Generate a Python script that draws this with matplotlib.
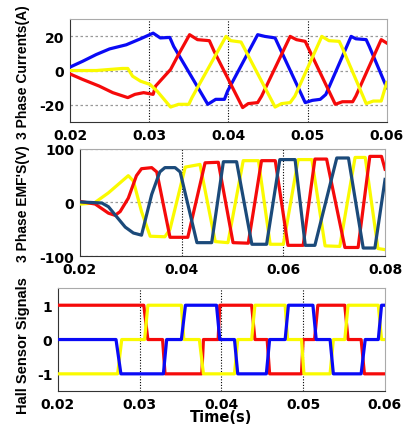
import matplotlib
matplotlib.use("Agg")
import matplotlib.pyplot as plt

# ---- phase currents (A) ----
ia_t = [0.0200, 0.0216, 0.0233, 0.0250, 0.0271, 0.0289, 0.0305, 0.0314, 0.0326, 0.0331,
        0.0374, 0.0384, 0.0395, 0.0399, 0.0437, 0.0446, 0.0459, 0.0463, 0.0497, 0.0506,
        0.0516, 0.0523, 0.0555, 0.0561, 0.0574, 0.0578, 0.0600]
ia_v = [2.0, 5.4, 9.3, 12.6, 15.0, 18.5, 21.8, 19.0, 19.3, 14.0,
        -19.7, -16.8, -16.8, -12.0, 20.9, 19.9, 19.0, 15.0, -18.7, -17.4,
        -16.8, -14.0, 19.9, 18.5, 18.0, 14.0, -10.0]

ib_t = [0.0200, 0.0216, 0.0237, 0.0254, 0.0273, 0.0282, 0.0293, 0.0305, 0.0308, 0.0327,
        0.0337, 0.0351, 0.0361, 0.0376, 0.0382, 0.0418, 0.0425, 0.0437, 0.0442, 0.0478,
        0.0486, 0.0497, 0.0501, 0.0535, 0.0544, 0.0557, 0.0561, 0.0591, 0.0593, 0.0600]
ib_v = [-2.0, -5.2, -9.1, -12.9, -15.8, -13.9, -12.9, -13.9, -9.1, 0.6,
        9.3, 20.9, 18.0, 17.4, 11.2, -21.6, -19.3, -18.7, -14.9, 19.9,
        18.0, 17.0, 13.1, -19.7, -18.2, -18.2, -14.9, 16.0, 18.0, 16.0]

ic_t = [0.0200, 0.0233, 0.0266, 0.0273, 0.0279, 0.0289, 0.0301, 0.0310, 0.0327, 0.0337,
        0.0350, 0.0354, 0.0397, 0.0403, 0.0416, 0.0420, 0.0459, 0.0467, 0.0478, 0.0484,
        0.0518, 0.0527, 0.0540, 0.0544, 0.0574, 0.0583, 0.0593, 0.0600]
ic_v = [0.0, 0.0, 1.2, 1.2, -3.3, -6.2, -8.1, -12.0, -21.3, -19.7,
        -19.7, -15.8, 19.9, 17.4, 16.6, 13.1, -21.3, -19.3, -18.7, -14.9,
        19.9, 17.4, 17.0, 13.1, -19.3, -17.8, -17.8, -7.0]

# ---- back EMFs (V) ----
ea_t = [0.0200, 0.0228, 0.0256, 0.0295, 0.0305, 0.0321, 0.0338, 0.0367, 0.0377, 0.0407,
        0.0436, 0.0466, 0.0491, 0.0521, 0.0551, 0.0574, 0.0600, 0.0629, 0.0656, 0.0682,
        0.0711, 0.0741, 0.0761, 0.0786, 0.0800]
ea_v = [-3, -1, 18, 50, 40, -17, -63, -64, -50, 66,
        71, -73, -75, 78, 78, -78, -78, 80, 80, -81,
        -82, 84, 84, -86, -88]

eb_t = [0.0200, 0.0230, 0.0256, 0.0269, 0.0279, 0.0295, 0.0311, 0.0321, 0.0341, 0.0351,
        0.0377, 0.0412, 0.0446, 0.0472, 0.0501, 0.0531, 0.0557, 0.0584, 0.0609, 0.0639,
        0.0662, 0.0685, 0.0721, 0.0747, 0.0770, 0.0793, 0.0800]
eb_v = [2, -3, -20, -24, -17, 8, 50, 63, 65, 57,
        -65, -65, 74, 75, -75, -76, 78, 78, -80, -80,
        81, 81, -84, -84, 86, 86, 62]

ec_t = [0.0200, 0.0243, 0.0256, 0.0275, 0.0289, 0.0305, 0.0321, 0.0341, 0.0357, 0.0367,
        0.0387, 0.0397, 0.0430, 0.0459, 0.0482, 0.0508, 0.0538, 0.0567, 0.0593, 0.0623,
        0.0643, 0.0662, 0.0705, 0.0728, 0.0757, 0.0780, 0.0800]
ec_v = [1, -1, -8, -30, -46, -57, -61, 15, 57, 65,
        65, 57, -75, -75, 76, 76, -78, -78, 80, 80,
        -80, -80, 83, 83, -85, -85, 43]

# ---- hall sensor signals ----
ha_t = [0.0200, 0.0305, 0.0310, 0.0328, 0.0331, 0.0376, 0.0378, 0.0396, 0.0398, 0.0437,
        0.0441, 0.0456, 0.0459, 0.0498, 0.0500, 0.0514, 0.0518, 0.0551, 0.0555, 0.0571,
        0.0575, 0.0600]
ha_v = [1, 1, 0, 0, -1, -1, 0, 0, 1, 1,
        0, 0, -1, -1, 0, 0, 1, 1, 0, 0,
        -1, -1]

hb_t = [0.0200, 0.0273, 0.0278, 0.0306, 0.0310, 0.0351, 0.0354, 0.0373, 0.0378, 0.0416,
        0.0420, 0.0437, 0.0441, 0.0478, 0.0481, 0.0498, 0.0501, 0.0533, 0.0537, 0.0551,
        0.0555, 0.0592, 0.0596, 0.0600]
hb_v = [-1, -1, 0, 0, 1, 1, 0, 0, -1, -1,
        0, 0, 1, 1, 0, 0, -1, -1, 0, 0,
        1, 1, 0, 0]

hc_t = [0.0200, 0.0271, 0.0277, 0.0329, 0.0333, 0.0351, 0.0356, 0.0394, 0.0398, 0.0416,
        0.0420, 0.0455, 0.0459, 0.0478, 0.0482, 0.0512, 0.0516, 0.0533, 0.0537, 0.0571,
        0.0576, 0.0592, 0.0596, 0.0600]
hc_v = [0, 0, -1, -1, 0, 0, 1, 1, 0, 0,
        -1, -1, 0, 0, 1, 1, 0, 0, -1, -1,
        0, 0, 1, 1]

t_ticks_short = [0.02, 0.03, 0.04, 0.05, 0.06]
t_ticks_long = [0.02, 0.04, 0.06, 0.08]

BLUE = "#0a0af5"
RED = "#f50a0a"
YELLOW = "#fafa00"
NAVY = "#1b4a7a"

tick_font = dict(family="DejaVu Sans", weight="bold", size=10)
label_font = dict(family="Liberation Sans", weight="bold", size=10)


def style_axes(ax, xlim, ylim, xticks, yticks, yticklabels, vgrid, hgrid):
    ax.set_xlim(*xlim)
    ax.set_ylim(*ylim)
    ax.set_xticks(xticks)
    ax.set_xticklabels(["%.2f" % v for v in xticks], **tick_font)
    ax.set_yticks(yticks)
    ax.set_yticklabels(yticklabels, **tick_font)
    ax.tick_params(length=0, pad=4)
    for v in vgrid:
        ax.axvline(v, color="black", linestyle=(0, (1, 1.5)), linewidth=0.8, zorder=1)
    for h in hgrid:
        ax.axhline(h, color="#999999", linestyle=(0, (2, 2)), linewidth=0.9, zorder=1)
    ax.spines["left"].set_color("#333333")
    ax.spines["bottom"].set_color("#333333")
    ax.spines["top"].set_color("#aaaaaa")
    ax.spines["right"].set_color("#aaaaaa")
    for s in ax.spines.values():
        s.set_linewidth(0.8)


fig = plt.figure(figsize=(4.03, 4.27), dpi=100)

# panel 1: currents
ax1 = fig.add_axes([0.1737, 0.712, 0.786, 0.241])
ax1.plot(ia_t, ia_v, color=BLUE, lw=2.3, zorder=3)
ax1.plot(ib_t, ib_v, color=RED, lw=2.3, zorder=3)
ax1.plot(ic_t, ic_v, color=YELLOW, lw=2.3, zorder=4)
style_axes(ax1, (0.02, 0.06), (-30, 30), t_ticks_short, [-20, 0, 20],
           ["-20", "0", "20"], [0.03, 0.04, 0.05], [-20, 0, 20])
ax1.set_ylabel("3 Phase Currents(A)", **label_font)
ax1.yaxis.set_label_coords(-0.125, 0.49)

# panel 2: back emf
ax2 = fig.add_axes([0.1985, 0.398, 0.757, 0.251])
ax2.plot(ea_t, ea_v, color=YELLOW, lw=2.3, zorder=3)
ax2.plot(eb_t, eb_v, color=RED, lw=2.3, zorder=3)
ax2.plot(ec_t, ec_v, color=NAVY, lw=2.3, zorder=4)
style_axes(ax2, (0.02, 0.08), (-100, 100), t_ticks_long, [-100, 0, 100],
           ["-100", "0", "100"], [0.04, 0.06], [-100, 0, 100])
ax2.set_ylabel("3 Phase EMF'S(V)", **label_font)
ax2.yaxis.set_label_coords(-0.164, 0.5)

# panel 3: hall sensors
ax3 = fig.add_axes([0.1439, 0.082, 0.811, 0.241])
ax3.plot(ha_t, ha_v, color=RED, lw=2.3, zorder=3)
ax3.plot(hb_t, hb_v, color=YELLOW, lw=2.3, zorder=4)
ax3.plot(hc_t, hc_v, color=BLUE, lw=2.3, zorder=5)
style_axes(ax3, (0.02, 0.06), (-1.5, 1.5), t_ticks_short, [-1, 0, 1],
           ["-1", "0", "1"], [0.03, 0.04, 0.05], [])
ax3.set_ylabel("Hall Sensor Signals", family="Liberation Sans", weight="bold", size=10.5)
ax3.yaxis.set_label_coords(-0.085, 0.45)
ax3.set_xlabel("Time(s)", family="DejaVu Sans", weight="bold", size=10.5, labelpad=-1)

fig.savefig("out.png", dpi=100)
